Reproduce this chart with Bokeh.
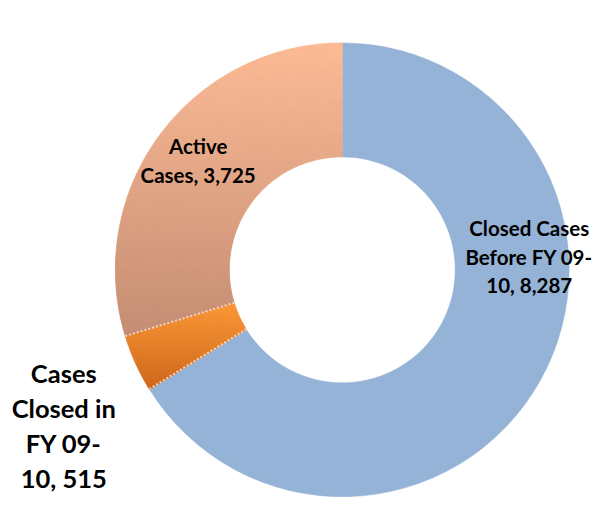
import numpy as np
from bokeh.plotting import figure
from bokeh.models import Range1d, ColumnDataSource
from bokeh.core.properties import value
from bokeh.embed import file_html
from bokeh.resources import INLINE

# ---------------- data ----------------
categories = ["Closed Cases Before FY 09-10", "Cases Closed in FY 09-10", "Active Cases"]
values = [8287, 515, 3725]
label_lines = [
    ["Closed Cases", "Before FY 09-", "10, 8,287"],
    ["Cases", "Closed in", "FY 09-", "10, 515"],
    ["Active", "Cases, 3,725"],
]

# ---------------- styles ----------------
top_colors = [(149, 179, 215), (250, 150, 52), (252, 186, 148)]
bottom_colors = [(149, 179, 215), (205, 102, 26), (196, 140, 114)]
gradient = [False, True, True]

W, H = 592, 497
REF_W, REF_H = 608, 513     # layout units (reference pixels)
CX, CY = 351, 278           # donut centre (layout units)
R_OUT, R_IN = 233, 116      # radii (layout units)

# label layout: centre x, first baseline y (layout units), line step, font size
label_layout = [(543, 235, 29.5, "20.5px"), (65, 385, 36, "25.5px"), (203, 150, 30, "20.5px")]

p = figure(width=W, height=H, output_backend="svg", toolbar_location=None,
           x_range=Range1d(0 - CX, REF_W - CX), y_range=Range1d(CY - REF_H, CY - 0),
           x_axis_location=None, y_axis_location=None, min_border=0)
p.xgrid.visible = False
p.ygrid.visible = False
p.outline_line_color = None
p.background_fill_color = "white"
p.border_fill_color = "white"

total = float(sum(values))
fr = np.array(values, dtype=float) / total
cum = np.concatenate([[0.0], np.cumsum(fr)])
starts = np.pi / 2 - cum[:-1] * 2 * np.pi
ends = np.pi / 2 - cum[1:] * 2 * np.pi


def hexc(c):
    return "#%02x%02x%02x" % tuple(int(round(v)) for v in c)


for i in range(len(values)):
    a0, a1 = starts[i], ends[i]
    if not gradient[i]:
        p.annular_wedge(x=0, y=0, inner_radius=R_IN, outer_radius=R_OUT,
                        start_angle=a0, end_angle=a1, direction="clock",
                        fill_color=hexc(top_colors[i]), line_color=hexc(top_colors[i]),
                        line_width=0.5)
        continue
    span = abs(a0 - a1)
    n_ang = max(6, int(np.degrees(span) / 1.0))
    n_rad = 14
    tf = np.linspace(a0, a1, 400)
    ys_all = np.concatenate([R_OUT * np.sin(tf), R_IN * np.sin(tf)])
    ymax, ymin = ys_all.max(), ys_all.min()
    th = np.linspace(a0, a1, n_ang + 1)
    rr = np.linspace(R_IN, R_OUT, n_rad + 1)
    sa, ea, ir, orr, cols = [], [], [], [], []
    top = np.array(top_colors[i], dtype=float)
    bot = np.array(bottom_colors[i], dtype=float)
    for j in range(n_ang):
        tm = 0.5 * (th[j] + th[j + 1])
        for k in range(n_rad):
            rm = 0.5 * (rr[k] + rr[k + 1])
            yc = rm * np.sin(tm)
            f = (ymax - yc) / (ymax - ymin)
            c = top + (bot - top) * f
            sa.append(th[j]); ea.append(th[j + 1])
            ir.append(rr[k]); orr.append(rr[k + 1])
            cols.append(hexc(c))
    src = ColumnDataSource(dict(sa=sa, ea=ea, ir=ir, orr=orr, c=cols))
    p.annular_wedge(x=0, y=0, inner_radius="ir", outer_radius="orr",
                    start_angle="sa", end_angle="ea", direction="clock",
                    fill_color="c", line_color="c", line_width=0.8, source=src)

# dotted light separators around the small slice
sep_angles = [starts[1], ends[1]]
p.segment(x0=[R_IN * np.cos(a) for a in sep_angles], y0=[R_IN * np.sin(a) for a in sep_angles],
          x1=[R_OUT * np.cos(a) for a in sep_angles], y1=[R_OUT * np.sin(a) for a in sep_angles],
          line_color="#fbd3b6", line_width=2, line_dash="2 2")

# data labels
for lines, (lx, ly, step, fs) in zip(label_lines, label_layout):
    xs = [lx - CX] * len(lines)
    ys = [CY - (ly + n * step) for n in range(len(lines))]
    p.text(x=xs, y=ys, text=lines, text_font=value("Lato"), text_font_style="bold",
           text_font_size=fs, text_color="black", text_align="center",
           text_baseline="alphabetic")

open("out.html", "w").write(file_html(p, INLINE))
